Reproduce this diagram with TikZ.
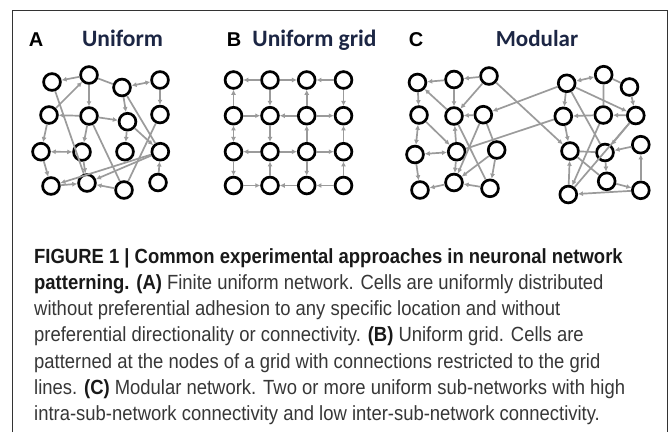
\documentclass[tikz,border=0pt]{standalone}
\usepackage{fontspec}
\setmainfont{Liberation Sans}
\newfontfamily\titlefont{Carlito}
\newfontfamily\labfont{Liberation Sans}
\newfontfamily\capfont[FakeStretch=0.9]{Liberation Sans}
\usetikzlibrary{arrows.meta}
\definecolor{edgegray}{RGB}{155,155,155}
\definecolor{titleblue}{RGB}{28,38,68}
\definecolor{captext}{RGB}{55,55,55}
\tikzset{
  cell/.style={circle, draw=black, line width=2.7pt, minimum size=16.8pt, inner sep=0pt, fill=white},
  link/.style={draw=edgegray, line width=1.7pt, -{Latex[length=5pt,width=5pt]}},
  dlink/.style={draw=edgegray, line width=1.7pt, {Latex[length=5pt,width=5pt]}-{Latex[length=5pt,width=5pt]}},
  plink/.style={draw=edgegray, line width=1.7pt},
  paneltag/.style={font={\fontsize{20}{22}\selectfont\labfont\bfseries}, anchor=base, inner sep=0pt},
  ptitle/.style={text=titleblue, anchor=base, inner sep=0pt},
  frame/.style={draw=black!80, line width=0.8pt}
}
\begin{document}
\begin{tikzpicture}[x=1pt,y=-1pt]
\useasboundingbox (0,0) rectangle (669,432);
\fill[white] (0,0) rectangle (669,432);
\coordinate (fbl) at (12,432);
\coordinate (ftl) at (12,10);
\coordinate (ftr) at (667,10);
\coordinate (fbr) at (667,432);
\draw[frame] (fbl) -- (ftl) -- (ftr) -- (fbr);

% titles
\node[paneltag] (la) at (36,46.5) {A};
\node[ptitle, font={\fontsize{23.5}{25}\selectfont\titlefont\bfseries}] (ta) at (122.5,46.5) {Uniform};
\node[paneltag] (lb) at (234,46.5) {B};
\node[ptitle, font={\fontsize{23.5}{25}\selectfont\titlefont\bfseries}] (tb) at (314.5,46.5) {Uniform grid};
\node[paneltag] (lc) at (416,46.5) {C};
\node[ptitle, font={\fontsize{23}{25}\selectfont\titlefont\bfseries}] (tc) at (537,46.5) {Modular};

% ---------------- Panel A ----------------
\node[cell] (A1) at (52,82) {};
\node[cell] (A2) at (89,75) {};
\node[cell] (A3) at (122,87.5) {};
\node[cell] (A4) at (160,80) {};
\node[cell] (A5) at (49,115) {};
\node[cell] (A6) at (89,116) {};
\node[cell] (A7) at (127.5,121.7) {};
\node[cell] (A8) at (160,114.5) {};
\node[cell] (A9) at (41,151.7) {};
\node[cell] (A10) at (82,152) {};
\node[cell] (A11) at (125,151.7) {};
\node[cell] (A12) at (160.3,151.7) {};
\node[cell] (A13) at (51,186) {};
\node[cell] (A14) at (87,183) {};
\node[cell] (A15) at (124,190) {};
\node[cell] (A16) at (158,182.5) {};
\draw[link] (A2) -- (A1);
\draw[link] (A2) -- (A6);
\draw[plink] (A2) -- (A3);
\draw[dlink] (A4) -- (A3);
\draw[link] (A4) -- (A8);
\draw[link] (A5) -- (A2);
\draw[plink] (A1) -- (A14);
\draw[link] (A6) -- (A5);
\draw[link] (A6) -- (A7);
\draw[plink] (A6) -- (A15);
\draw[link] (A6) -- (A10);
\draw[link] (A3) -- (A7);
\draw[plink] (A3) -- (A12);
\draw[link] (A7) -- (A12);
\draw[plink] (A8) -- (A15);
\draw[link] (A12) -- (A13);
\draw[link] (A12) -- (A14);
\draw[link] (A7) -- (A11);
\draw[dlink] (A10) -- (A9);
\draw[link] (A5) -- (A9);
\draw[link] (A9) -- (A13);
\draw[link] (A13) -- (A14);
\draw[link] (A10) -- (A14);
\draw[link] (A15) -- (A14);
\draw[link] (A16) -- (A12);

% ---------------- Panel B ----------------
\foreach \c/\x in {1/233.5,2/270,3/306.7,4/343.5}{
  \foreach \r/\y in {0/80,1/115.7,2/151.7,3/185.5}{
    \pgfmathtruncatemacro{\k}{4*\r+\c}
    \node[cell] (B\k) at (\x,\y) {};
  }
}
\draw[link] (B2) -- (B1);
\draw[link] (B2) -- (B3);
\draw[link] (B4) -- (B3);
\draw[link] (B5) -- (B6);
\draw[link] (B7) -- (B6);
\draw[link] (B7) -- (B8);
\draw[link] (B10) -- (B9);
\draw[link] (B10) -- (B11);
\draw[link] (B11) -- (B12);
\draw[link] (B13) -- (B14);
\draw[link] (B15) -- (B14);
\draw[link] (B16) -- (B15);
\draw[link] (B5) -- (B1);
\draw[dlink] (B5) -- (B9);
\draw[link] (B9) -- (B13);
\draw[link] (B2) -- (B6);
\draw[link] (B6) -- (B10);
\draw[link] (B14) -- (B10);
\draw[link] (B7) -- (B3);
\draw[link] (B11) -- (B7);
\draw[link] (B11) -- (B15);
\draw[link] (B4) -- (B8);
\draw[link] (B12) -- (B8);
\draw[link] (B16) -- (B12);

% ---------------- Panel C ----------------
\node[cell] (C1) at (417.5,82.5) {};
\node[cell] (C2) at (454,79.5) {};
\node[cell] (C3) at (489,76) {};
\node[cell] (C4) at (419,115) {};
\node[cell] (C5) at (454,116) {};
\node[cell] (C6) at (483.3,114.7) {};
\node[cell] (C7) at (415,154.5) {};
\node[cell] (C8) at (456.7,151.7) {};
\node[cell] (C9) at (496.7,150) {};
\node[cell] (C10) at (420,190) {};
\node[cell] (C11) at (454,182.5) {};
\node[cell] (C12) at (490,188.3) {};
\node[cell] (C13) at (566.7,83.3) {};
\node[cell] (C14) at (603.7,74.7) {};
\node[cell] (C15) at (629.5,87) {};
\node[cell] (C16) at (563.3,116.3) {};
\node[cell] (C17) at (603.3,115) {};
\node[cell] (C18) at (635.8,115.5) {};
\node[cell] (C19) at (570,151) {};
\node[cell] (C20) at (605,152.5) {};
\node[cell] (C21) at (640.8,144.7) {};
\node[cell] (C22) at (606.7,181.3) {};
\node[cell] (C23) at (640.8,190.3) {};
\node[cell] (C24) at (568.3,194.5) {};
% left module
\draw[link] (C2) -- (C1);
\draw[link] (C3) -- (C2);
\draw[link] (C1) -- (C4);
\draw[link] (C2) -- (C5);
\draw[link] (C5) -- (C1);
\draw[link] (C3) -- (C5);
\draw[link] (C6) -- (C5);
\draw[link] (C4) -- (C8);
\draw[dlink] (C4) -- (C7);
\draw[dlink] (C8) -- (C7);
\draw[link] (C8) -- (C5);
\draw[plink] (C5) -- (C12);
\draw[link] (C6) -- (C11);
\draw[plink] (C6) -- (C9);
\draw[link] (C9) -- (C11);
\draw[link] (C9) -- (C12);
\draw[link] (C7) -- (C10);
\draw[link] (C11) -- (C10);
\draw[link] (C12) -- (C11);
\draw[link] (C8) -- (C11);
% between modules
\draw[plink] (C16) -- (C8);
\draw[link] (C13) -- (C6);
\draw[link] (C3) -- (C19);
% right module
\draw[dlink] (C13) -- (C14);
\draw[plink] (C14) -- (C15);
\draw[link] (C13) -- (C18);
\draw[plink] (C14) -- (C17);
\draw[link] (C15) -- (C18);
\draw[link] (C13) -- (C16);
\draw[plink] (C13) -- (C20);
\draw[link] (C17) -- (C16);
\draw[link] (C18) -- (C17);
\draw[link] (C16) -- (C19);
\draw[link] (C18) -- (C20);
\draw[link] (C17) -- (C24);
\draw[plink] (C18) -- (C24);
\draw[plink] (C19) -- (C20);
\draw[link] (C21) -- (C20);
\draw[link] (C20) -- (C22);
\draw[plink] (C19) -- (C22);
\draw[link] (C22) -- (C23);
\draw[link] (C23) -- (C21);
\draw[link] (C23) -- (C24);
\draw[link] (C24) -- (C19);

% ---------------- Caption ----------------
\node[anchor=north west, align=left, inner sep=0pt, text=captext,
      font={\fontsize{20.5}{26.3}\selectfont\capfont}] (cap) at (34,248)
{\textbf{\color{black!90}FIGURE 1 | Common experimental approaches in neuronal network}\\
\textbf{\color{black!90}patterning. (A)} Finite uniform network. Cells are uniformly distributed\\
without preferential adhesion to any specific location and without\\
preferential directionality or connectivity. \textbf{\color{black!90}(B)} Uniform grid. Cells are\\
patterned at the nodes of a grid with connections restricted to the grid\\
lines. \textbf{\color{black!90}(C)} Modular network. Two or more uniform sub-networks with high\\
intra-sub-network connectivity and low inter-sub-network connectivity.};
\end{tikzpicture}
\end{document}
